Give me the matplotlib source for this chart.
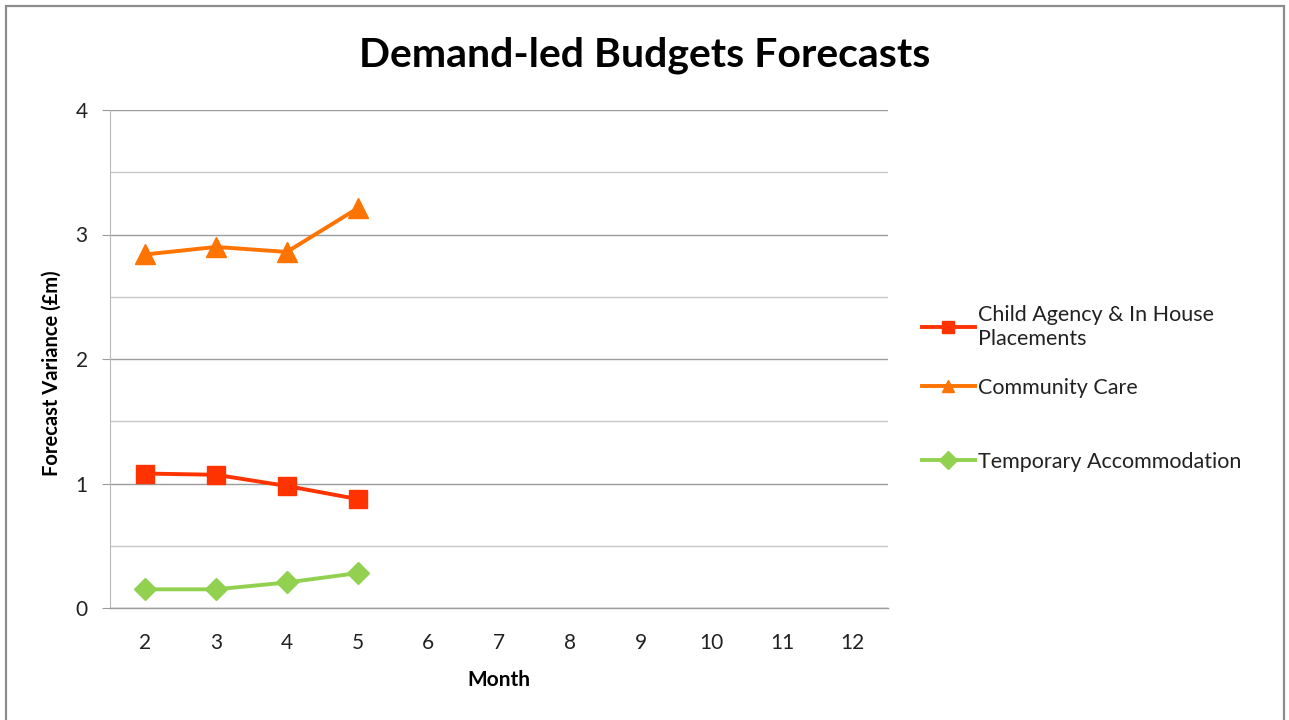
import matplotlib
matplotlib.use("Agg")
import matplotlib.pyplot as plt
from matplotlib.patches import Rectangle
from matplotlib.ticker import MultipleLocator
from matplotlib.legend import Legend

plt.rcParams['font.family'] = ['Lato', 'DejaVu Sans']

months = ["2", "3", "4", "5", "6", "7", "8", "9", "10", "11", "12"]
child_agency = [1.08, 1.07, 0.98, 0.875]
community_care = [2.84, 2.90, 2.86, 3.21]
temp_accom = [0.15, 0.15, 0.205, 0.28]
labels = ["Child Agency & In House\nPlacements", "Community Care", "Temporary Accommodation"]

fig = plt.figure(figsize=(12.89, 7.2), dpi=100)
fig.patches.append(Rectangle((6/1289, -0.01), (1284-6)/1289, (720-6)/720 + 0.01,
                             transform=fig.transFigure, fill=False,
                             edgecolor="#8c8c8c", linewidth=1.6))
ax = fig.add_axes([110/1289, 1-608/720, (888-110)/1289, (608-110)/720])

x = list(range(len(months)))
l1, = ax.plot(x[:len(child_agency)], child_agency, color="#FF3300", lw=2.8, marker="s",
              ms=13, label=labels[0], zorder=3)
l2, = ax.plot(x[:len(community_care)], community_care, color="#FF7300", lw=2.8, marker="^",
              ms=15, label=labels[1], zorder=3)
l3, = ax.plot(x[:len(temp_accom)], temp_accom, color="#92D050", lw=2.8, marker="D",
              ms=11, label=labels[2], zorder=3)

ax.set_xlim(-0.5, len(months) - 0.5)
ax.set_ylim(0, 4)
ax.set_xticks(x)
ax.set_xticklabels(months)
ax.yaxis.set_major_locator(MultipleLocator(1))
ax.yaxis.set_minor_locator(MultipleLocator(0.5))
ax.grid(axis="y", which="major", color="#9c9c9c", lw=1.0)
ax.grid(axis="y", which="minor", color="#c8c8c8", lw=1.0)
ax.set_axisbelow(True)
for s in ["top", "right"]:
    ax.spines[s].set_visible(False)
ax.spines["left"].set_color("#b8b8b8")
ax.spines["bottom"].set_color("#9c9c9c")
ax.spines["bottom"].set_linewidth(1.0)
ax.tick_params(axis="x", length=0, pad=18, labelsize=15, colors="#222222")
ax.tick_params(axis="y", which="major", length=6, color="#9c9c9c", labelsize=15, pad=10, labelcolor="#222222")
ax.tick_params(axis="y", which="minor", length=0)

ax.set_xlabel("Month", fontsize=15, fontweight="bold", labelpad=12)
ax.set_ylabel("Forecast Variance (£m)", fontsize=14.5, fontweight="bold")
ax.yaxis.set_label_coords(-0.062, 0.472)
fig.suptitle("Demand-led Budgets Forecasts", fontsize=29.5, fontweight="bold", y=1-55/720, va="center")

legend_y = [327, 388, 462]
for line, lab, yy in zip([l1, l2, l3], labels, legend_y):
    leg = Legend(ax, [line], [lab], loc="center left", bbox_to_anchor=(922/1289, 1-yy/720),
                 bbox_transform=fig.transFigure, frameon=False, fontsize=15.5,
                 handlelength=2.45, handletextpad=0.15, borderpad=0, borderaxespad=0)
    for t in leg.get_texts():
        t.set_linespacing(1.3)
        t.set_color("#222222")
    for h in leg.legend_handles:
        h.set_markersize(9)
    ax.add_artist(leg)

fig.savefig("out.png", dpi=100)
